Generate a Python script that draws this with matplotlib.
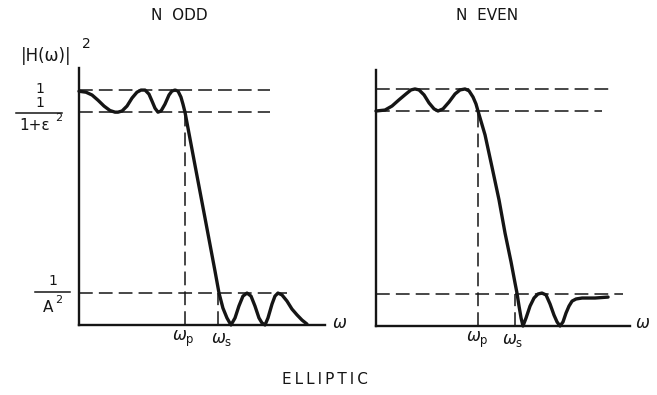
import matplotlib.pyplot as plt
from matplotlib.lines import Line2D

W, H = 657, 395
INK = "#151515"

# levels (|H|^2) and band edges (omega normalised to omega_p = 1)
pass_top = 1.0
pass_low = 0.906    # 1/(1+eps^2)
stop_high = 0.137   # 1/A^2
wp = 1.0
ws_odd = 1.31
ws_even = 1.36

# N odd response
odd_w = [0.000, 0.066, 0.123, 0.179, 0.236, 0.292, 0.340, 0.368, 0.406, 0.453,
         0.500, 0.547, 0.585, 0.623, 0.660, 0.689, 0.717, 0.745, 0.774, 0.811,
         0.849, 0.877, 0.906, 0.934, 0.962, 0.981, 1.000, 1.094, 1.189, 1.283,
         1.321, 1.358, 1.396, 1.434, 1.472, 1.509, 1.547, 1.585, 1.623, 1.660,
         1.698, 1.726, 1.755, 1.783, 1.821, 1.849, 1.877, 1.915, 1.962, 2.009,
         2.057, 2.104, 2.151]
odd_h = [0.995, 0.991, 0.979, 0.957, 0.932, 0.913, 0.906, 0.906, 0.911, 0.932,
         0.966, 0.991, 1.000, 1.000, 0.983, 0.953, 0.923, 0.906, 0.911, 0.940,
         0.979, 0.996, 1.000, 0.996, 0.970, 0.940, 0.906, 0.681, 0.455, 0.230,
         0.136, 0.072, 0.030, 0.000, 0.030, 0.081, 0.123, 0.136, 0.123, 0.081,
         0.030, 0.009, 0.000, 0.030, 0.089, 0.123, 0.136, 0.128, 0.102, 0.068,
         0.043, 0.021, 0.004]

# N even response
even_w = [0.000, 0.088, 0.157, 0.225, 0.294, 0.343, 0.382, 0.422, 0.471, 0.520,
          0.569, 0.608, 0.657, 0.716, 0.775, 0.824, 0.873, 0.912, 0.951, 0.980,
          1.000, 1.069, 1.137, 1.206, 1.265, 1.324, 1.363, 1.382, 1.402, 1.422,
          1.441, 1.471, 1.510, 1.549, 1.588, 1.627, 1.667, 1.706, 1.745, 1.775,
          1.804, 1.833, 1.863, 1.892, 1.922, 1.961, 2.020, 2.147, 2.275]
even_h = [0.907, 0.911, 0.928, 0.954, 0.979, 0.996, 1.000, 0.996, 0.975, 0.941,
          0.916, 0.907, 0.916, 0.945, 0.979, 0.996, 1.000, 0.992, 0.966, 0.937,
          0.907, 0.806, 0.671, 0.532, 0.392, 0.270, 0.181, 0.139, 0.084, 0.034,
          0.000, 0.034, 0.084, 0.118, 0.135, 0.139, 0.131, 0.093, 0.046, 0.017,
          0.000, 0.017, 0.055, 0.084, 0.105, 0.114, 0.118, 0.118, 0.122]

fig = plt.figure(figsize=(W / 100, H / 100), dpi=100)


def fpos(px, py):
    return px / W, 1 - py / H


def label(px, py, s, size=11, **kw):
    x, y = fpos(px, py)
    fig.text(x, y, s, ha="center", va="center", fontsize=size, color=INK, **kw)


def bar(px0, px1, py):
    x0, y = fpos(px0, py)
    x1, _ = fpos(px1, py)
    fig.add_artist(Line2D([x0, x1], [y, y], transform=fig.transFigure,
                          color=INK, lw=1.1))


def panel(box, xmax, ymax, w, h, ws, ends):
    l, t, r, b = box
    ax = fig.add_axes([l / W, 1 - b / H, (r - l) / W, (b - t) / H])
    ax.set_xlim(0, xmax)
    ax.set_ylim(0, ymax)
    for s in ["top", "right"]:
        ax.spines[s].set_visible(False)
    for s in ["left", "bottom"]:
        ax.spines[s].set_linewidth(1.7)
        ax.spines[s].set_color(INK)
    ax.set_xticks([])
    ax.set_yticks([])
    dash = dict(color=INK, lw=1.1, ls=(0, (9, 4)), clip_on=False)
    ax.plot([0, ends[0]], [pass_top, pass_top], **dash)
    ax.plot([0, ends[1]], [pass_low, pass_low], **dash)
    ax.plot([0, ends[2]], [stop_high, stop_high], **dash)
    ax.plot([wp, wp], [0, pass_low], **dash)
    ax.plot([ws, ws], [0, stop_high], **dash)
    ax.plot(w, h, color=INK, lw=2.4, solid_joinstyle="round",
            solid_capstyle="round", clip_on=False)
    return ax


panel((79, 68, 325, 325), 2.321, 1.094, odd_w, odd_h, ws_odd, (1.80, 1.80, 1.96))
panel((376, 70, 630, 326), 2.490, 1.080, even_w, even_h, ws_even, (2.29, 2.22, 2.42))

# titles
label(179, 15, "N  ODD")
label(487, 15, "N  EVEN")
label(325, 380, "E\u2009L\u2009L\u2009I\u2009P\u2009T\u2009I\u2009C")

# y label and level labels
label(46, 56, "|H(\u03c9)|", size=12)
label(86, 44, "2", size=10)
label(40, 89, "1", size=10)
label(40, 103, "1", size=10)
bar(16, 62, 112.5)
label(35, 126, "1+\u03b5", size=11)
label(59, 118, "2", size=8)
label(53, 281, "1", size=10)
bar(35, 70, 292)
label(48, 307, "A", size=11)
label(59, 300, "2", size=8)

# omega labels
label(183, 339, r"$\omega_\mathrm{p}$", size=12)
label(222, 339, r"$\omega_\mathrm{s}$", size=12)
label(340, 323, r"$\omega$", size=12)
label(477, 340, r"$\omega_\mathrm{p}$", size=12)
label(513, 340, r"$\omega_\mathrm{s}$", size=12)
label(643, 323, r"$\omega$", size=12)

fig.savefig("out.png", dpi=100)
